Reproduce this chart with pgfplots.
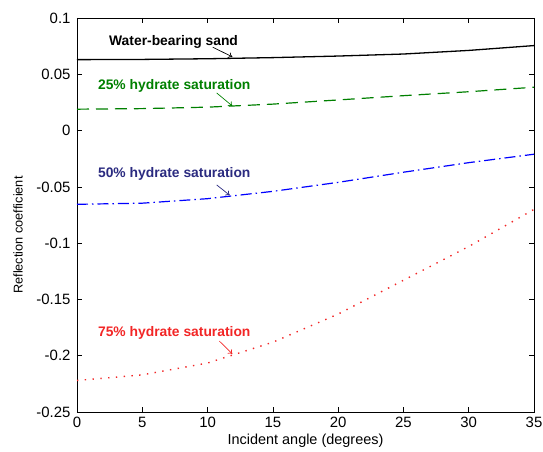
\documentclass[border=0pt]{standalone}
\usepackage{pgfplots}
\pgfplotsset{compat=1.18}
\usepackage{fontspec}
\setmainfont{Liberation Sans}
\usetikzlibrary{arrows.meta}
\definecolor{mgreen}{rgb}{0,0.5,0}
\definecolor{navy}{rgb}{0.17,0.17,0.5}
\definecolor{mred}{rgb}{0.95,0.15,0.15}
\begin{document}
\begin{tikzpicture}
\begin{axis}[
  scale only axis,
  width=457bp, height=394bp,
  xmin=0, xmax=35, ymin=-0.25, ymax=0.1,
  xtick={0,5,...,35},
  ytick={-0.25,-0.2,-0.15,-0.1,-0.05,0,0.05,0.1},
  yticklabels={-0.25,-0.2,-0.15,-0.1,-0.05,0,0.05,0.1},
  xticklabels={0,5,10,15,20,25,30,35},
  tick label style={font=\fontsize{15}{17}\selectfont},
  yticklabel style={xshift=-3bp},
  xticklabel style={yshift=-2bp},
  xlabel={Incident angle (degrees)},
  ylabel={Reflection coefficient},
  xlabel style={font=\fontsize{14.5}{16}\selectfont, at={(axis description cs:0.5,0)}, anchor=north, yshift=-20.5bp, inner sep=1pt},
  ylabel style={font=\fontsize{12.8}{15}\selectfont, at={(axis description cs:-0.129,0.449)}, anchor=center},
  major tick length=5bp,
  axis line style={line width=0.6pt},
  every tick/.style={black, line width=0.6pt},
  clip=true,
]
\addplot[black, line width=1.3pt] coordinates {
(0,0.0630) (5,0.0632) (10,0.0638) (15,0.0648) (20,0.0662) (25,0.0680) (30,0.0712) (35,0.0755)};
\addplot[mgreen, line width=1.2pt, dash pattern=on 12bp off 7bp] coordinates {
(0,0.0190) (5,0.0195) (10,0.0208) (15,0.0235) (20,0.0272) (25,0.0310) (30,0.0345) (35,0.0385)};
\addplot[blue, line width=1.2pt, dash pattern=on 11bp off 4bp on 1.5bp off 4bp] coordinates {
(0,-0.0655) (5,-0.0645) (10,-0.0605) (15,-0.0540) (20,-0.0460) (25,-0.0370) (30,-0.0285) (35,-0.0210)};
\addplot[mred, line width=1.4pt, dash pattern=on 1.4bp off 6.4bp] coordinates {
(0,-0.2220) (5,-0.2170) (10,-0.2065) (15,-0.1880) (20,-0.1630) (25,-0.1330) (30,-0.1030) (35,-0.0700)};

\node[font=\fontsize{13.9}{15}\selectfont\bfseries, anchor=west, inner sep=0pt] at (axis cs:2.45,0.0787) {Water-bearing sand};
\draw[-{To[length=4pt,width=6pt]}, black, line width=0.7pt] (axis cs:10.4,0.0740) -- (axis cs:11.9,0.0655);

\node[font=\fontsize{13.9}{15}\selectfont\bfseries, text=mgreen, anchor=west, inner sep=0pt] at (axis cs:1.6,0.0396) {25\% hydrate saturation};
\draw[-{To[length=4pt,width=6pt]}, mgreen, line width=0.7pt] (axis cs:10.7,0.0334) -- (axis cs:11.9,0.0218);

\node[font=\fontsize{13.9}{15}\selectfont\bfseries, text=navy, anchor=west, inner sep=0pt] at (axis cs:1.6,-0.0386) {50\% hydrate saturation};
\draw[-{To[length=4pt,width=6pt]}, navy, line width=0.7pt] (axis cs:10.7,-0.0483) -- (axis cs:11.7,-0.0575);

\node[font=\fontsize{13.9}{15}\selectfont\bfseries, text=mred, anchor=west, inner sep=0pt] at (axis cs:1.6,-0.1797) {75\% hydrate saturation};
\draw[-{To[length=4pt,width=6pt]}, mred, line width=0.7pt] (axis cs:10.9,-0.187) -- (axis cs:11.9,-0.1985);

\coordinate (SW) at (rel axis cs:0,0);
\coordinate (NE) at (rel axis cs:1,1);
\end{axis}
\pgfresetboundingbox
\path ([shift={(-77bp,-40bp)}]SW) rectangle ([shift={(9bp,18bp)}]NE);
\end{tikzpicture}
\end{document}
